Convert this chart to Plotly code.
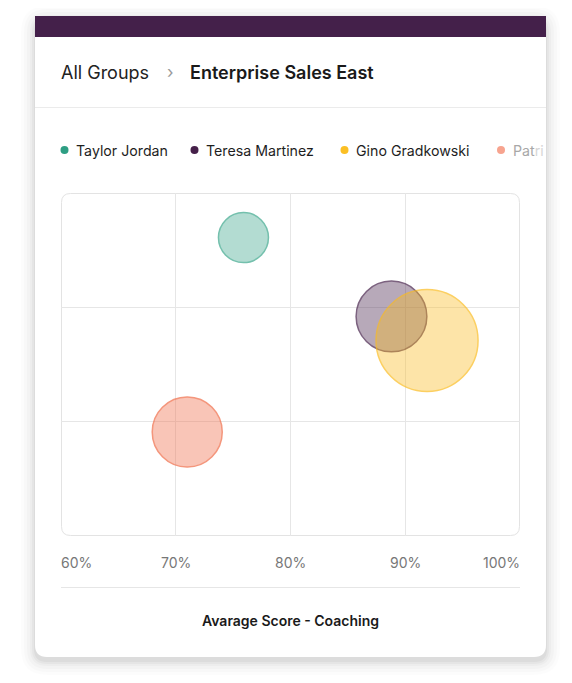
import plotly.graph_objects as go

# ---- data ----
names = ["Taylor Jordan", "Teresa Martinez", "Gino Gradkowski", "Patricia Lee"]
legend_labels = ["Taylor Jordan", "Teresa Martinez", "Gino Gradkowski", "Patri"]
coaching_score = [75.9, 88.8, 91.9, 71.0]        # x, percent
other_score = [2.61, 1.92, 1.71, 0.91]           # y
bubble_value = [25, 50, 104, 49]                 # bubble size (area)
colors = ["#3AA68B", "#45204A", "#FBBC1F", "#F06A45"]
x_ticks = [60, 70, 80, 90, 100]
x_tick_labels = ["60%", "70%", "80%", "90%", "100%"]
breadcrumb_parent = "All Groups"
breadcrumb_current = "Enterprise Sales East"
x_title = "Avarage Score - Coaching"

OFF = 8  # page body margin
W, H = 572 - OFF, 683 - OFF
L, R, T, B = 61, 520, 193, 536
FONT = "Inter, Lato, sans-serif"
TP = 2  # annotation inner padding


def px(x):
    return (x - L) / (R - L)


def py(y):
    return (B - y) / (B - T)


def rgba(hexc, a):
    h = hexc.lstrip("#")
    r, g, b = int(h[0:2], 16), int(h[2:4], 16), int(h[4:6], 16)
    return f"rgba({r},{g},{b},{a})"


def rounded(x0, y0, x1, y1, r):
    X = lambda v: f"{px(v):.5f}"
    Y = lambda v: f"{py(v):.5f}"
    return (f"M {X(x0 + r)},{Y(y0)} L {X(x1 - r)},{Y(y0)} Q {X(x1)},{Y(y0)} {X(x1)},{Y(y0 + r)} "
            f"L {X(x1)},{Y(y1 - r)} Q {X(x1)},{Y(y1)} {X(x1 - r)},{Y(y1)} "
            f"L {X(x0 + r)},{Y(y1)} Q {X(x0)},{Y(y1)} {X(x0)},{Y(y1 - r)} "
            f"L {X(x0)},{Y(y0 + r)} Q {X(x0)},{Y(y0)} {X(x0 + r)},{Y(y0)} Z")


fig = go.Figure()
for i in range(len(names)):
    fig.add_trace(go.Scatter(
        x=[coaching_score[i]], y=[other_score[i]], mode="markers", name=names[i],
        marker=dict(size=[bubble_value[i]], sizemode="area", sizeref=0.02,
                    color=rgba(colors[i], 0.55), line=dict(color=colors[i], width=1.5)),
        showlegend=False, cliponaxis=False,
    ))

shapes = []
for k, op in [(14, 0.012), (11, 0.015), (8, 0.02), (5, 0.025), (3, 0.03), (1, 0.04)]:
    shapes.append(dict(type="path", xref="paper", yref="paper", layer="below",
                       path=rounded(35 - k, 16 - k + 4, 546 + k, 657 + k + 4, 12 + k),
                       fillcolor=f"rgba(0,0,0,{op})", line=dict(width=0)))
shapes.append(dict(type="path", xref="paper", yref="paper", layer="below",
                   path=rounded(35, 16, 546, 657, 12), fillcolor="white", line=dict(width=0)))
shapes.append(dict(type="rect", xref="paper", yref="paper", layer="below",
                   x0=px(35), x1=px(546), y0=py(16), y1=py(37),
                   fillcolor="#44204A", line=dict(width=0)))
shapes.append(dict(type="line", xref="paper", yref="paper", layer="below",
                   x0=px(35), x1=px(546), y0=py(107.5), y1=py(107.5),
                   line=dict(color="#EBEBEB", width=1)))
shapes.append(dict(type="path", xref="paper", yref="paper", layer="below",
                   path=rounded(61.5, 193.5, 519.5, 535.5, 9), fillcolor="rgba(0,0,0,0)",
                   line=dict(color="#E3E3E3", width=1)))
shapes.append(dict(type="line", xref="paper", yref="paper", layer="below",
                   x0=px(61), x1=px(520), y0=py(587.5), y1=py(587.5),
                   line=dict(color="#E6E6E6", width=1)))
dot_x = [64.5, 194.5, 344.5, 501]
dot_cols = ["#2E9E83", "#45204A", "#FBBF24", "#F7A48F"]
for dx, c in zip(dot_x, dot_cols):
    shapes.append(dict(type="circle", xref="paper", yref="paper", layer="above",
                       x0=px(dx - 4), x1=px(dx + 4), y0=py(146), y1=py(154),
                       fillcolor=c, line=dict(width=0)))

annotations = []
annotations.append(dict(text=breadcrumb_parent, xref="paper", yref="paper", x=px(61 - TP), y=py(72),
                        xanchor="left", yanchor="middle", showarrow=False,
                        font=dict(family=FONT, size=18, color="#222222")))
annotations.append(dict(text="›", xref="paper", yref="paper", x=px(170), y=py(72),
                        xanchor="center", yanchor="middle", showarrow=False,
                        font=dict(family=FONT, size=17, color="#9A9A9A")))
annotations.append(dict(text=breadcrumb_current, xref="paper", yref="paper",
                        x=px(190 - TP), y=py(72), xanchor="left", yanchor="middle", showarrow=False,
                        font=dict(family=FONT, size=18, color="#1A1A1A", weight=600)))
text_x = [76, 206, 356, 513]
for i, (tx, lab) in enumerate(zip(text_x, legend_labels)):
    if i == 3:
        txt = "<span style='color:#A8A8A8'>Pat</span><span style='color:#D6D6D6'>ri</span>"
    else:
        txt = lab
    annotations.append(dict(text=txt, xref="paper", yref="paper", x=px(tx - TP), y=py(150),
                            xanchor="left", yanchor="middle", showarrow=False,
                            font=dict(family=FONT, size=14.2, color="#1E1E1E")))
for v, lab in zip(x_ticks, x_tick_labels):
    if v == x_ticks[0]:
        anc, sx = "left", -TP
    elif v == x_ticks[-1]:
        anc, sx = "right", TP
    else:
        anc, sx = "center", 0
    annotations.append(dict(text=lab, xref="x", yref="paper", x=v, y=py(562), xshift=sx,
                            xanchor=anc, yanchor="middle", showarrow=False,
                            font=dict(family=FONT, size=14, color="#777777")))
annotations.append(dict(text=x_title, xref="paper", yref="paper", x=px(290), y=py(620),
                        xanchor="center", yanchor="middle", showarrow=False,
                        font=dict(family=FONT, size=14, color="#1A1A1A", weight=600)))

fig.update_layout(
    width=W, height=H,
    margin=dict(l=L - OFF, r=W - (R - OFF), t=T - OFF, b=H - (B - OFF), pad=0),
    paper_bgcolor="#FFFFFF", plot_bgcolor="rgba(0,0,0,0)",
    shapes=shapes, annotations=annotations, showlegend=False,
    xaxis=dict(range=[60, 100], tickvals=x_ticks[1:-1], showticklabels=False, showgrid=True,
               gridcolor="#E6E6E6", gridwidth=1, zeroline=False, showline=False, fixedrange=True),
    yaxis=dict(range=[0, 3], tickvals=[1, 2], showticklabels=False, showgrid=True,
               gridcolor="#E6E6E6", gridwidth=1, zeroline=False, showline=False, fixedrange=True),
)

fig.write_html("out.html", config={"displayModeBar": False})
